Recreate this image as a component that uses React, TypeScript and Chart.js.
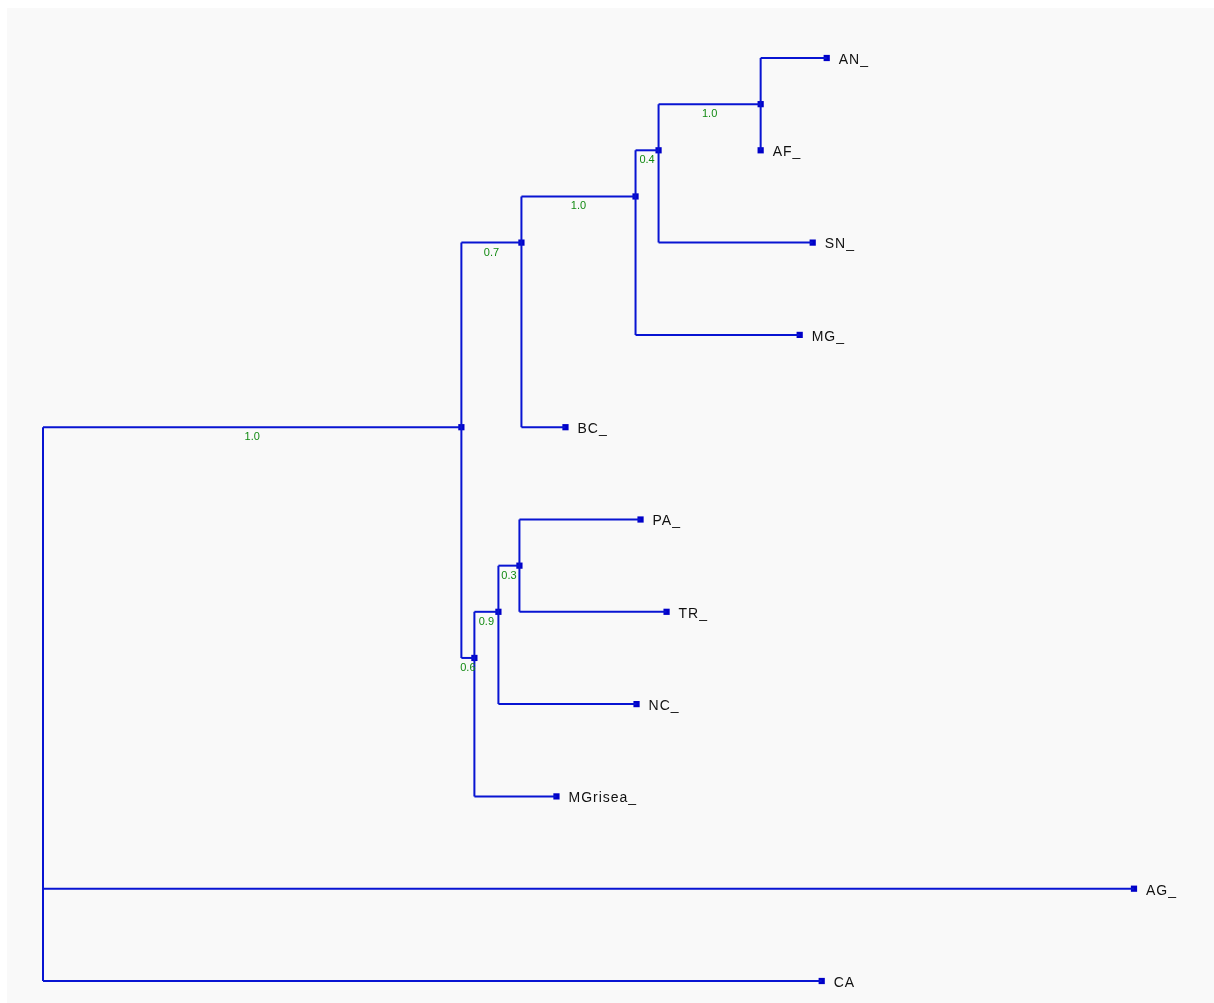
import React, { useEffect, useRef } from "react";
import { Chart, registerables } from "chart.js";

Chart.register(...registerables);

// Tree structure (rectangular phylogram)
const nodeIds = ["root", "n1", "n2", "BC", "n3", "MG", "n4", "SN", "n5", "AN", "AF", "n6", "MGrisea", "n7", "NC", "n8", "PA", "TR", "AG", "CA"];
const nodeParents = [null, "root", "n1", "n2", "n2", "n3", "n3", "n4", "n4", "n5", "n5", "n1", "n6", "n6", "n7", "n7", "n8", "n8", "root", "root"];
const branchLengths = [0, 0.418, 0.06, 0.044, 0.114, 0.164, 0.023, 0.154, 0.102, 0.066, 0.0, 0.013, 0.082, 0.024, 0.138, 0.021, 0.121, 0.147, 1.09, 0.778];
const supportValues: Record<string, string> = { n1: "1.0", n2: "0.7", n3: "1.0", n4: "0.4", n5: "1.0", n6: "0.6", n7: "0.9", n8: "0.3" };
const leafOrder = ["AN", "AF", "SN", "MG", "BC", "PA", "TR", "NC", "MGrisea", "AG", "CA"];
const leafLabels = ["AN_", "AF_", "SN_", "MG_", "BC_", "PA_", "TR_", "NC_", "MGrisea_", "AG_", "CA"];

const LINE = "#0814d2";
const NODE = "#0000c8";
const GREEN = "#128a12";

function layout() {
  const idx: Record<string, number> = {};
  nodeIds.forEach((n, i) => (idx[n] = i));
  const xs: Record<string, number> = {};
  const getX = (n: string): number => {
    if (xs[n] !== undefined) return xs[n];
    const p = nodeParents[idx[n]];
    xs[n] = (p ? getX(p) : 0) + branchLengths[idx[n]];
    return xs[n];
  };
  nodeIds.forEach((n) => getX(n));
  const childrenOf = (n: string): string[] => nodeIds.filter((_, i) => nodeParents[i] === n);
  const leavesOf = (n: string): string[] => {
    const kids = childrenOf(n);
    if (kids.length === 0) return [n];
    return kids.flatMap(leavesOf);
  };
  const ys: Record<string, number> = {};
  nodeIds.forEach((n) => {
    const lv = leavesOf(n);
    ys[n] = lv.reduce((s, l) => s + leafOrder.indexOf(l), 0) / lv.length;
  });
  return { xs, ys, childrenOf };
}

export default function App() {
  const ref = useRef<HTMLCanvasElement | null>(null);
  useEffect(() => {
    if (!ref.current) return;
    const { xs, ys, childrenOf } = layout();
    const lineStyle = {
      type: "line",
      borderColor: LINE,
      borderWidth: 2,
      pointRadius: 0,
      fill: false,
      tension: 0,
      clip: false,
    };
    const edgeSets: any[] = [];
    nodeIds.forEach((n, i) => {
      const kids = childrenOf(n);
      if (kids.length > 0) {
        const kys = kids.map((k) => ys[k]);
        edgeSets.push({
          ...lineStyle,
          data: [
            { x: xs[n], y: Math.min(...kys) },
            { x: xs[n], y: Math.max(...kys) },
          ],
        });
      }
      const p = nodeParents[i];
      if (!p) return;
      edgeSets.push({
        ...lineStyle,
        data: [
          { x: xs[p], y: ys[n] },
          { x: xs[n], y: ys[n] },
        ],
      });
    });
    const nodePts = nodeIds.filter((n) => n !== "root").map((n) => ({ x: xs[n], y: ys[n] }));
    const labelPlugin = {
      id: "treeLabels",
      afterDatasetsDraw(chart: any) {
        const ctx = chart.ctx;
        const sx = chart.scales.x;
        const sy = chart.scales.y;
        ctx.save();
        ctx.fillStyle = GREEN;
        ctx.font = "11px 'Liberation Sans', Arial, sans-serif";
        ctx.textAlign = "center";
        ctx.textBaseline = "middle";
        nodeIds.forEach((n, i) => {
          const s = supportValues[n];
          if (!s) return;
          const p = nodeParents[i] as string;
          const mid = (sx.getPixelForValue(xs[p]) + sx.getPixelForValue(xs[n])) / 2;
          ctx.fillText(s, mid, sy.getPixelForValue(ys[n]) + 10);
        });
        ctx.fillStyle = "#111";
        ctx.font = "14px 'Liberation Sans', Arial, sans-serif";
        try { (ctx as any).letterSpacing = "1px"; } catch (e) {}
        ctx.textAlign = "left";
        leafOrder.forEach((l, i) => {
          ctx.fillText(leafLabels[i], sx.getPixelForValue(xs[l]) + 12, sy.getPixelForValue(ys[l]) + 2);
        });
        ctx.restore();
      },
    };
    const chart = new Chart(ref.current, {
      type: "scatter",
      data: {
        datasets: [
          ...edgeSets,
          {
            type: "scatter",
            data: nodePts,
            pointStyle: "rect",
            pointRadius: 4.4,
            pointBorderWidth: 0,
            backgroundColor: NODE,
            borderColor: NODE,
            clip: false,
          },
        ],
      },
      options: {
        animation: false,
        responsive: false,
        devicePixelRatio: 1,
        layout: { padding: { left: 36, right: 70, top: 50, bottom: 22 } },
        plugins: { legend: { display: false }, tooltip: { enabled: false } },
        events: [],
        scales: {
          x: { type: "linear", min: 0, max: 1.1, display: false },
          y: { type: "linear", min: 0, max: 10, reverse: true, display: false },
        },
      },
      plugins: [labelPlugin],
    } as any);
    return () => chart.destroy();
  }, []);
  return (
    <div style={{ position: "absolute", left: 7, top: 8, width: 1207, height: 995, background: "#f9f9f9", overflow: "hidden" }}>
      <canvas ref={ref} width={1207} height={995} style={{ display: "block" }} />
    </div>
  );
}
